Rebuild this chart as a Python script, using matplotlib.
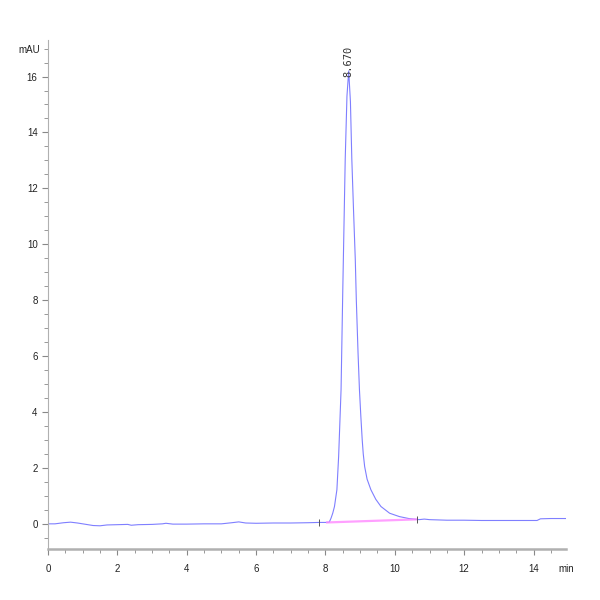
import matplotlib
matplotlib.use('Agg')
import matplotlib.pyplot as plt
from matplotlib.ticker import MultipleLocator

plt.rcParams['font.family'] = ['Liberation Sans Narrow', 'Liberation Sans', 'DejaVu Sans']

# Chromatogram trace (min, mAU)
time = [0.0, 0.2, 0.45, 0.65, 0.85, 1.1, 1.3, 1.5, 1.7, 2.0, 2.3, 2.4, 2.6,
        3.0, 3.3, 3.4, 3.6, 4.0, 4.5, 5.0, 5.3, 5.5, 5.7, 6.0, 6.5, 7.0,
        7.5, 7.8, 8.0, 8.11, 8.16, 8.21, 8.26, 8.33, 8.38, 8.45, 8.50, 8.57,
        8.62, 8.67, 8.72, 8.76, 8.81, 8.86, 8.89, 8.94, 8.98, 9.02, 9.06,
        9.09, 9.13, 9.2, 9.31, 9.45, 9.60, 9.85, 10.13, 10.4, 10.7, 10.85,
        11.0, 11.5, 12.0, 12.5, 13.0, 13.5, 14.0, 14.1, 14.2, 14.5, 14.93]
signal = [0.0, 0.0, 0.04, 0.06, 0.03, -0.02, -0.06, -0.07, -0.04, -0.03,
          -0.02, -0.05, -0.03, -0.02, 0.0, 0.02, -0.01, -0.01, 0.0, 0.0,
          0.04, 0.07, 0.03, 0.02, 0.03, 0.03, 0.04, 0.05, 0.05, 0.06, 0.2,
          0.38, 0.62, 1.22, 2.41, 4.8, 8.39, 13.05, 15.3, 16.2, 15.1, 13.05,
          11.2, 9.46, 8.0, 6.1, 4.8, 3.85, 3.0, 2.5, 2.05, 1.6, 1.22, 0.88,
          0.62, 0.38, 0.26, 0.19, 0.15, 0.17, 0.15, 0.13, 0.13, 0.12, 0.12,
          0.12, 0.12, 0.12, 0.18, 0.19, 0.19]

# integration baseline and event marks
base_t = [8.05, 10.63]
base_v = [0.05, 0.16]
event_t = [7.8, 10.63]
event_v = [0.05, 0.16]

peak_rt = 8.670
peak_h = 16.2

fig = plt.figure(figsize=(6, 6), dpi=100)
ax = fig.add_axes([0.08, 0.085, 0.863, 0.848])

ax.plot(time, signal, color='#7f7fff', lw=0.8)
ax.plot(base_t, base_v, color='#ff88ff', lw=1.6, alpha=0.8)
for t, v in zip(event_t, event_v):
    ax.vlines(t, v - 0.12, v + 0.12, color='#555555', lw=0.7)

ax.text(peak_rt, peak_h - 0.2, '%.3f' % peak_rt, rotation=90, ha='center',
        va='bottom', fontsize=7.5, color='#333333', family='DejaVu Sans Mono')

ax.set_xlim(0, 14.93)
ax.set_ylim(-0.9, 17.3)
ax.xaxis.set_major_locator(MultipleLocator(2))
ax.xaxis.set_minor_locator(MultipleLocator(0.5))
ax.yaxis.set_major_locator(MultipleLocator(2))
ax.yaxis.set_minor_locator(MultipleLocator(0.5))

for s in ['top', 'right']:
    ax.spines[s].set_visible(False)
ax.spines['left'].set_color('#b0b0b0')
ax.spines['left'].set_linewidth(0.8)
ax.spines['bottom'].set_color('#b0b0b0')
ax.spines['bottom'].set_linewidth(1.8)

ax.tick_params(which='both', direction='out', color='#888888', labelsize=7,
               labelcolor='#222222')
ax.tick_params(which='major', length=4, width=0.8)
ax.tick_params(which='minor', length=3, width=0.6)
ax.tick_params(axis='x', pad=7)

ax.text(-0.015, 16.95, 'mAU', transform=ax.get_yaxis_transform(), ha='right',
        va='center', fontsize=7, color='#222222')
ax.text(14.93, -0.03, 'min', transform=ax.get_xaxis_transform(), ha='center',
        va='top', fontsize=7, color='#222222')

fig.savefig('out.png', dpi=100)
